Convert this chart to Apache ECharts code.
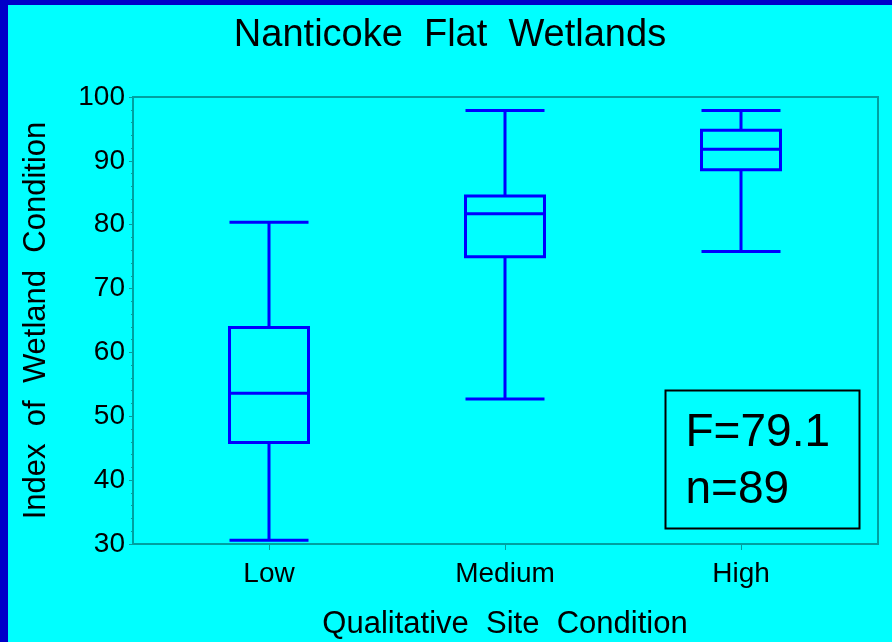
<!DOCTYPE html>
<html>
<head>
<meta charset="utf-8">
<script src="https://cdn.jsdelivr.net/npm/echarts@6/dist/echarts.min.js"></script>
<style>
  html, body { margin: 0; padding: 0; background: #0000c8; }
  #chart { position: absolute; left: 8px; top: 5px; width: 884px; height: 637px; background: #00ffff; }
</style>
</head>
<body>
<div id="chart"></div>
<script>
// site condition categories
const categories = ['Low', 'Medium', 'High']
// [min, Q1, median, Q3, max]
const lowStats = [30.6, 45.9, 53.6, 63.9, 80.4]
const mediumStats = [52.7, 75.0, 81.7, 84.5, 97.9]
const highStats = [75.8, 88.6, 91.8, 94.8, 97.9]
const statText = ['F=79.1', 'n=89']

const font = 'Liberation Sans, Arial, sans-serif'
const teal = '#00a0a0'

const chart = echarts.init(document.getElementById('chart'))
chart.setOption({
  backgroundColor: '#00ffff',
  animation: false,
  title: {
    text: 'Nanticoke  Flat  Wetlands',
    left: 'center',
    top: 7,
    textStyle: { fontFamily: font, fontSize: 38, fontWeight: 'normal', color: '#000' }
  },
  grid: [
    // frame + y axis
    { left: 125, right: 14, top: 92, bottom: 98, outerBoundsMode: 'none', show: true, borderColor: teal, borderWidth: 2, backgroundColor: 'transparent' },
    // category bands
    { left: 143, right: 33, top: 92, bottom: 98, outerBoundsMode: 'none' }
  ],
  xAxis: [
    { gridIndex: 0, type: 'value', show: false, min: 0, max: 1 },
    {
      gridIndex: 1,
      type: 'category',
      data: categories,
      boundaryGap: true,
      axisLine: { show: false },
      axisTick: { show: true, alignWithLabel: true, length: 6, lineStyle: { color: teal, width: 1 } },
      axisLabel: { fontFamily: font, fontSize: 28, color: '#000', margin: 16 },
      name: 'Qualitative  Site  Condition',
      nameLocation: 'middle',
      nameGap: 65,
      nameTextStyle: { fontFamily: font, fontSize: 31, color: '#000' }
    }
  ],
  yAxis: [
    {
      gridIndex: 0,
      type: 'value',
      min: 30,
      max: 100,
      interval: 10,
      axisLine: { show: true, lineStyle: { color: teal, width: 2 } },
      axisTick: { show: true, length: 4, lineStyle: { color: teal } },
      minorTick: { show: true, splitNumber: 5, length: 2, lineStyle: { color: teal } },
      splitLine: { show: false },
      axisLabel: { fontFamily: font, fontSize: 28, color: '#000', margin: 8 },
      name: 'Index  of  Wetland  Condition',
      nameLocation: 'middle',
      nameRotate: 90,
      nameGap: 81,
      nameTextStyle: { fontFamily: font, fontSize: 31, color: '#000' }
    },
    { gridIndex: 1, type: 'value', min: 30, max: 100, show: false }
  ],
  series: [{
    type: 'boxplot',
    xAxisIndex: 1,
    yAxisIndex: 1,
    boxWidth: [79, 79],
    itemStyle: { color: 'transparent', borderColor: '#0000ff', borderWidth: 3 },
    emphasis: { disabled: true },
    data: [lowStats, mediumStats, highStats]
  }],
  graphic: [{
    type: 'group',
    left: 655,
    top: 383,
    children: [
      { type: 'rect', shape: { x: 0, y: 0, width: 194, height: 138 }, style: { fill: 'none', stroke: '#000', lineWidth: 2 } },
      { type: 'text', x: 20, y: 14, style: { text: statText.join('\n'), font: '46px ' + font, lineHeight: 57, fill: '#000' } }
    ]
  }]
})
</script>
</body>
</html>
